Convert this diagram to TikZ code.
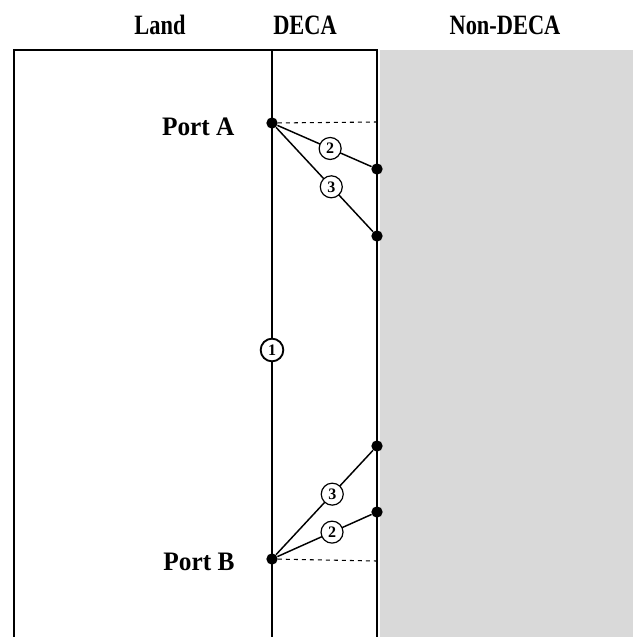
\documentclass[tikz,border=0pt]{standalone}
\usepackage{fontspec}
\setmainfont{Liberation Serif}
\usepackage{tikz}
\usetikzlibrary{positioning}

\begin{document}
\begin{tikzpicture}[
  x=0.75pt, y=-0.75pt,
  edge/.style={line width=1.8pt},
  route/.style={line width=1.1pt},
  portdot/.style={circle, fill=black, inner sep=0pt, minimum size=8.5pt},
  rnum/.style={circle, draw, line width=0.9pt, fill=white, inner sep=0pt, minimum size=16.5pt, font=\fontsize{12}{12}\selectfont\bfseries},
  zlabel/.style={font=\fontsize{21}{24}\selectfont\bfseries, xscale=0.8, transform shape},
  plabel/.style={font=\fontsize{20}{24}\selectfont\bfseries, xscale=0.95, transform shape, anchor=east},
]
\useasboundingbox (0,0) rectangle (633,637);

% Non-DECA zone
\fill[gray!30] (380,50) rectangle (633,637);

% Column titles
\node[zlabel] (land) at (160,25) {Land};
\node[zlabel] (deca) at (305,25) {DECA};
\node[zlabel] (nondeca) at (505,25) {Non-DECA};

% Boundaries
\draw[edge] (14,637) -- (14,50) -- (377,50) -- (377,637);
\draw[edge] (272,50) -- (272,637);

% Ports
\node[portdot] (pa) at (272,123) {};
\node[portdot] (pb) at (272,559) {};
\node[plabel] at (239,127) {Port A};
\node[plabel] at (239,562) {Port B};

% Exit points on the DECA boundary
\node[portdot] (a2) at (377,169) {};
\node[portdot] (a3) at (377,236) {};
\node[portdot] (b3) at (377,446) {};
\node[portdot] (b2) at (377,512) {};
\coordinate (ae) at (377,122);
\coordinate (be) at (377,561);

% Perpendicular to the boundary
\draw[route, dashed, line width=0.8pt] (pa) -- (ae);
\draw[route, dashed, line width=0.8pt] (pb) -- (be);

% Routes
\draw[route] (pa) -- (a2) node[rnum, pos=0.56] {2};
\draw[route] (pa) -- (a3) node[rnum, pos=0.57] {3};
\draw[route] (pb) -- (b3) node[rnum, pos=0.58] {3};
\draw[route] (pb) -- (b2) node[rnum, pos=0.58] {2};
\node[rnum, line width=1.4pt, minimum size=17pt] (r1) at (272,350) {1};

\end{tikzpicture}
\end{document}
